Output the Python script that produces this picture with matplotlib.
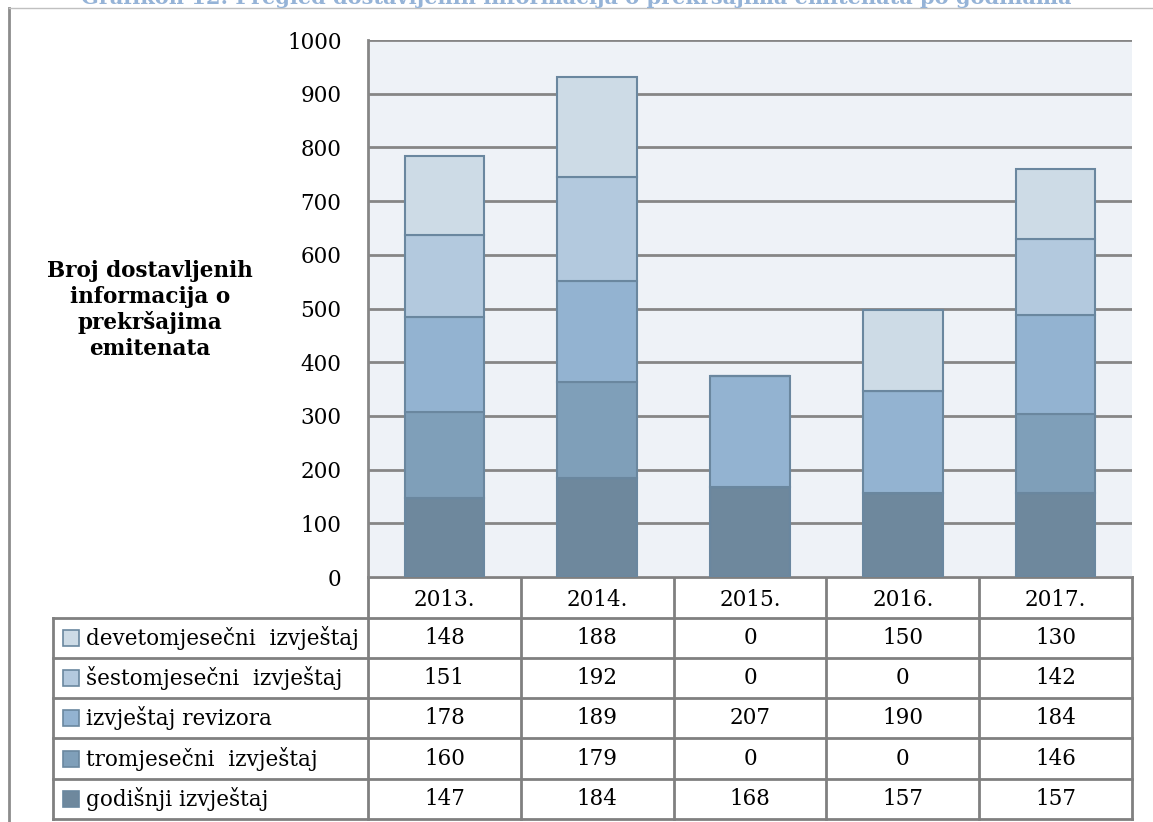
import numpy as np
import matplotlib.pyplot as plt
from matplotlib.patches import Rectangle

years = ['2013.', '2014.', '2015.', '2016.', '2017.']
series_names = ['devetomjesečni  izvještaj', 'šestomjesečni  izvještaj', 'izvještaj revizora',
                'tromjesečni  izvještaj', 'godišnji izvještaj']
devetomjesecni = [148, 188, 0, 150, 130]
sestomjesecni = [151, 192, 0, 0, 142]
revizor = [178, 189, 207, 190, 184]
tromjesecni = [160, 179, 0, 0, 146]
godisnji = [147, 184, 168, 157, 157]
yticks = [0, 100, 200, 300, 400, 500, 600, 700, 800, 900, 1000]

# bottom -> top stacking order
stack = [godisnji, tromjesecni, revizor, sestomjesecni, devetomjesecni]
colors = ['#6E889D', '#7F9FB9', '#93B3D1', '#B3C9DE', '#CDDBE6']
# table rows are top -> bottom
rows = [devetomjesecni, sestomjesecni, revizor, tromjesecni, godisnji]
row_colors = colors[::-1]

W, H = 1153, 822
serif = 'DejaVu Serif'
grid_c = '#868686'

fig = plt.figure(figsize=(W / 100, H / 100), dpi=100)

# overlay in pixel coordinates for frame + data table
ov = fig.add_axes([0, 0, 1, 1])
ov.set_xlim(0, W)
ov.set_ylim(H, 0)
ov.axis('off')

# plot area
left, right, top, bottom = 368, 1132, 40, 577
ax = fig.add_axes([left / W, (H - bottom) / H, (right - left) / W, (bottom - top) / H])
ax.set_facecolor('#EEF2F7')
ax.set_xlim(-0.5, 4.5)
ax.set_ylim(0, 1000)
x = np.arange(len(years))
for yv in yticks:
    ax.axhline(yv, color=grid_c, lw=2, zorder=1)
base = np.zeros(len(years))
for vals, c in zip(stack, colors):
    ax.bar(x, vals, bottom=base, width=0.52, color=c, edgecolor='#6A879F', linewidth=1.5, zorder=3)
    base += np.array(vals)
for s in ['top', 'right', 'bottom']:
    ax.spines[s].set_visible(False)
ax.spines['left'].set_color(grid_c)
ax.spines['left'].set_linewidth(2)
ax.set_xticks([])
ax.set_yticks(yticks)
ax.tick_params(axis='y', length=0, pad=19, labelsize=15.5)
for lab in ax.get_yticklabels():
    lab.set_fontfamily(serif)

# y label
ov.text(150, 310, 'Broj dostavljenih\ninformacija o\nprekršajima\nemitenata', ha='center', va='center',
        fontsize=15.5, fontweight='bold', family=serif, linespacing=1.2)

# frame and clipped caption above (cut off in the source as well)
ov.plot([9, 9], [8, H], color='#8C8C8C', lw=2)
ov.plot([9, W], [8, 8], color='#C0C0C0', lw=1)
ov.text(W / 2, -3, 'Grafikon 12: Pregled dostavljenih informacija o prekršajima emitenata po godinama',
        ha='center', va='center', fontsize=15, fontweight='bold', color='#95B3D7', family=serif)

# data table
col_w = (right - left) / len(years)
row_y = [577, 618, 658, 698, 738, 779, 819]
tc = '#808080'
ov.plot([left, right], [row_y[0], row_y[0]], color=tc, lw=2)
for yy in row_y[1:]:
    ov.plot([53, right], [yy, yy], color=tc, lw=2)
ov.plot([53, 53], [row_y[1], row_y[-1]], color=tc, lw=2)
for i in range(len(years) + 1):
    xx = left + i * col_w
    ov.plot([xx, xx], [row_y[0], row_y[-1]], color=tc, lw=2)
for i, yr in enumerate(years):
    ov.text(left + (i + 0.5) * col_w, (row_y[0] + row_y[1]) / 2 + 2, yr, ha='center', va='center',
            fontsize=15.5, family=serif)
for r, (name, vals, c) in enumerate(zip(series_names, rows, row_colors)):
    yc = (row_y[r + 1] + row_y[r + 2]) / 2
    ov.add_patch(Rectangle((63, yc - 8), 16, 16, facecolor=c, edgecolor='#6A879F', lw=1.2))
    ov.text(86, yc, name, ha='left', va='center', fontsize=15.5, family=serif)
    for i, v in enumerate(vals):
        ov.text(left + (i + 0.5) * col_w, yc, str(v), ha='center', va='center', fontsize=15.5, family=serif)

fig.savefig('out.png', dpi=100)
